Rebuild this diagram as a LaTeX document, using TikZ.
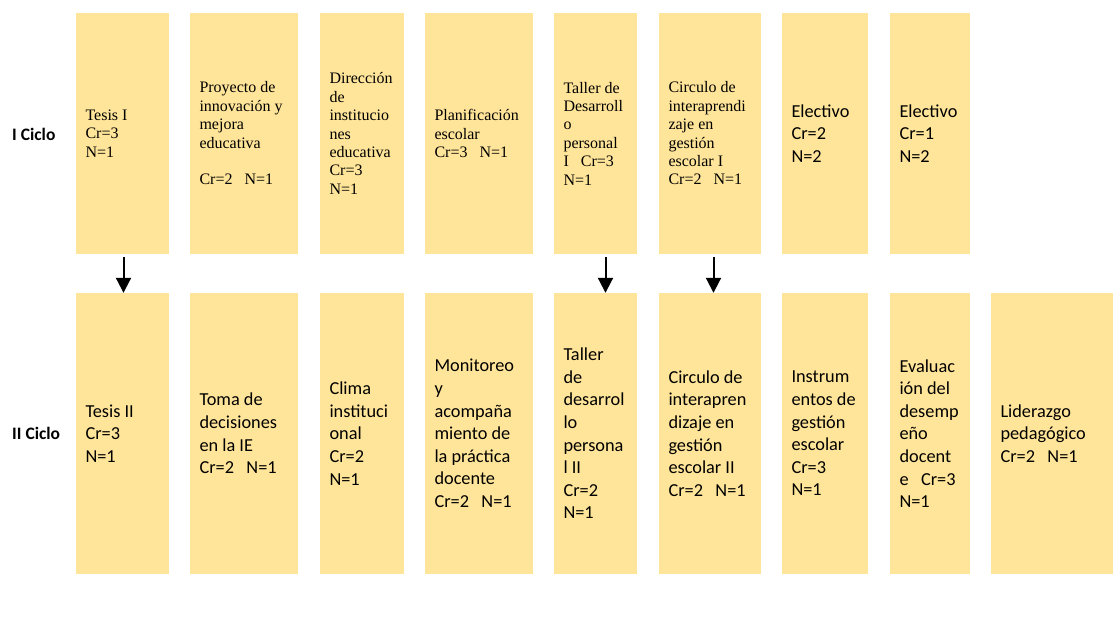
\documentclass[tikz,border=0pt]{standalone}
\usepackage{fontspec}
\setmainfont{Liberation Serif}
\newfontfamily\calibri{Carlito}
\usetikzlibrary{arrows.meta}
\definecolor{amarillo}{HTML}{FFE599}
\tikzset{
  curso/.style={rectangle, fill=amarillo, inner xsep=9.5pt, inner ysep=0pt,
    align=flush left, text width=#1pt, minimum width=#1pt+19pt},
  serif/.style={font=\fontsize{16}{18.4}\selectfont},
  sans/.style={font=\calibri\fontsize{18.3}{22.6}\selectfont},
  fila1/.style={minimum height=241pt},
  fila2/.style={minimum height=281pt},
  ciclo/.style={anchor=west, inner sep=0pt, font=\calibri\bfseries\fontsize{17.5}{21}\selectfont},
  flecha/.style={line width=2pt, -{Triangle[width=15pt,length=15pt]}}
}
\begin{document}
\begin{tikzpicture}[x=1pt,y=-1pt]
		\useasboundingbox (0,0) rectangle (1113,635);
		% ciclos
		\node[ciclo] (c1) at (12,134.5) {I Ciclo};
		\node[ciclo] (c2) at (12,433.5) {II Ciclo};
		% I Ciclo
		\node[curso=74, fila1, serif] (t1) at (122.5,133.5) {Tesis I\\Cr=3\\N=1};
		\node[curso=89, fila1, serif] (t2) at (244,133.5) {Proyecto de\\innovación y\\mejora\\educativa\\[18.4pt]Cr=2\ \ \ N=1};
		\node[curso=65, fila1, serif] (t3) at (362,133.5) {Dirección\\de\\institucio\\nes\\educativa\\Cr=3\\N=1};
		\node[curso=89, fila1, serif] (t4) at (479,133.5) {Planificación\\escolar\\Cr=3\ \ \ N=1};
		\node[curso=64, fila1, serif] (t5) at (595.5,133.5) {Taller de\\Desarroll\\o\\personal\\I\ \ \ Cr=3\\N=1};
		\node[curso=83, fila1, serif] (t6) at (710,133.5) {Circulo de\\interaprendi\\zaje en\\gestión\\escolar I\\Cr=2\ \ \ N=1};
		\node[curso=67, fila1, sans] (t7) at (825,133.5) {Electivo\\Cr=2\\N=2};
		\node[curso=61, fila1, sans] (t8) at (930,133.5) {Electivo\\Cr=1\\N=2};
		% II Ciclo
		\node[curso=74, fila2, sans] (b1) at (122.5,433.5) {Tesis II\\Cr=3\\N=1};
		\node[curso=89, fila2, sans] (b2) at (244,433.5) {Toma de\\decisiones\\en la IE\\Cr=2\ \ \ N=1};
		\node[curso=65, fila2, sans] (b3) at (362,433.5) {Clima\\instituci\\onal\\Cr=2\\N=1};
		\node[curso=89, fila2, sans] (b4) at (479,433.5) {Monitoreo\\y\\acompaña\\miento de\\la práctica\\docente\\Cr=2\ \ \ N=1};
		\node[curso=64, fila2, sans] (b5) at (595.5,433.5) {Taller\\de\\desarrol\\lo\\persona\\l II\\Cr=2\\N=1};
		\node[curso=83, fila2, sans] (b6) at (710,433.5) {Circulo de\\interapren\\dizaje en\\gestión\\escolar II\\Cr=2\ \ \ N=1};
		\node[curso=67, fila2, sans] (b7) at (825,433.5) {Instrum\\entos de\\gestión\\escolar\\Cr=3\\N=1};
		\node[curso=61, fila2, sans] (b8) at (930,433.5) {Evaluac\\ión del\\desemp\\eño\\docent\\e\ \ \ Cr=3\\N=1};
		\node[curso=103, fila2, sans] (b9) at (1052,433.5) {Liderazgo\\pedagógico\\Cr=2\ \ \ N=1};
		% flechas
		\draw[flecha] ([xshift=1pt,yshift=-3pt]t1.south) -- ([xshift=1pt]b1.north);
		\draw[flecha] ([xshift=10pt,yshift=-3pt]t5.south) -- ([xshift=10pt]b5.north);
		\draw[flecha] ([xshift=3.5pt,yshift=-3pt]t6.south) -- ([xshift=3.5pt]b6.north);
	\end{tikzpicture}
\end{document}
